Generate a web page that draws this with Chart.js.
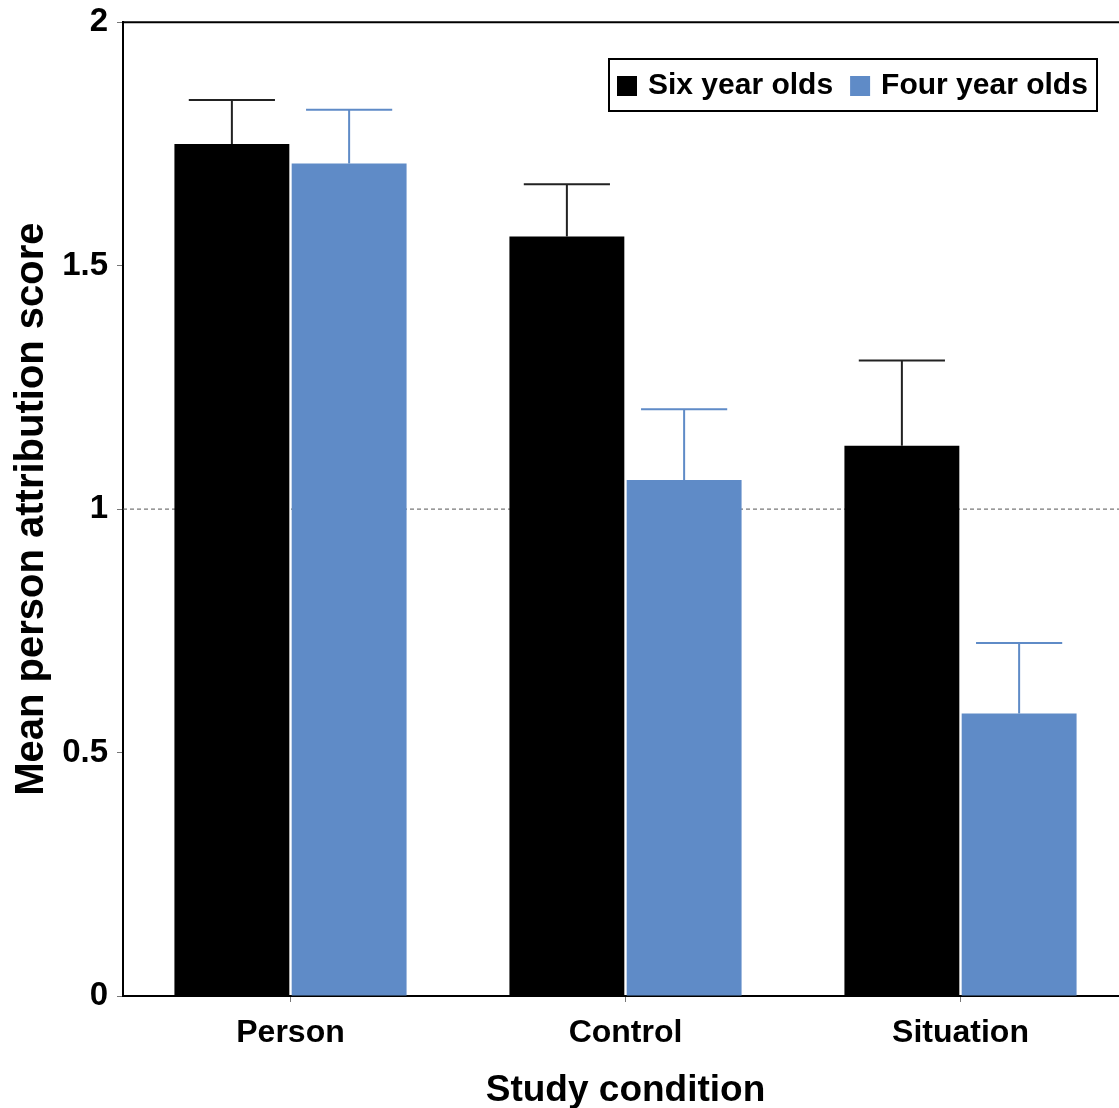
<!DOCTYPE html>
<html>
<head>
<meta charset="utf-8">
<script src="https://cdn.jsdelivr.net/npm/chart.js@4"></script>
<style>
  html, body { margin: 0; padding: 0; background: #fff; overflow: hidden; }
  #wrap { width: 1119px; height: 1108px; overflow: hidden; }
</style>
</head>
<body>
<div id="wrap"><canvas id="attrChart" width="1128" height="1108"></canvas></div>
<script>
// ===============================
// Data
// ===============================
const categories = ["Person", "Control", "Situation"];
const seriesNames = ["Six year olds", "Four year olds"];
const sixMeans = [1.75, 1.56, 1.13];
const fourMeans = [1.71, 1.06, 0.58];
// upper error bar length (only upper half is drawn)
const sixErr = [0.09, 0.107, 0.175];
const fourErr = [0.11, 0.145, 0.145];
const yTickLabels = ["0", "0.5", "1", "1.5", "2"];
const refLine = 1;

const FONT = "'Liberation Sans', Arial, sans-serif";
const BLUE = "#5f8bc7";

// ===============================
// Plugins: error bars, reference line, top border, legend box
// ===============================
const refLinePlugin = {
  id: "refLine",
  beforeDatasetsDraw(chart) {
    const { ctx, chartArea, scales } = chart;
    const y = scales.y.getPixelForValue(refLine);
    ctx.save();
    ctx.strokeStyle = "#555";
    ctx.lineWidth = 1;
    ctx.setLineDash([4, 3]);
    ctx.beginPath();
    ctx.moveTo(chartArea.left, y);
    ctx.lineTo(chartArea.right, y);
    ctx.stroke();
    ctx.restore();
  }
};

const errorBarPlugin = {
  id: "errorBars",
  afterDatasetsDraw(chart) {
    const { ctx, scales } = chart;
    const errs = [sixErr, fourErr];
    const colors = ["#222", BLUE];
    chart.data.datasets.forEach((ds, i) => {
      const meta = chart.getDatasetMeta(i);
      meta.data.forEach((bar, j) => {
        const top = scales.y.getPixelForValue(ds.data[j] + errs[i][j]);
        const half = bar.width * 0.375;
        ctx.save();
        ctx.strokeStyle = colors[i];
        ctx.lineWidth = 2;
        ctx.beginPath();
        ctx.moveTo(bar.x, bar.y);
        ctx.lineTo(bar.x, top);
        ctx.moveTo(bar.x - half, top);
        ctx.lineTo(bar.x + half, top);
        ctx.stroke();
        ctx.restore();
      });
    });
  }
};

const frameLegendPlugin = {
  id: "frameLegend",
  afterDraw(chart) {
    const { ctx, chartArea } = chart;
    ctx.save();
    // top border of the plot frame
    ctx.strokeStyle = "#000";
    ctx.lineWidth = 2;
    ctx.beginPath();
    ctx.moveTo(chartArea.left, chartArea.top);
    ctx.lineTo(chartArea.right, chartArea.top);
    ctx.stroke();

    // legend box
    const bx = 609, by = 59, bw = 488, bh = 52;
    ctx.fillStyle = "#fff";
    ctx.fillRect(bx, by, bw, bh);
    ctx.strokeRect(bx, by, bw, bh);
    ctx.font = "bold 30px " + FONT;
    ctx.textBaseline = "middle";
    let x = bx + 8;
    const cy = by + bh / 2 + 1;
    chart.data.datasets.forEach((ds) => {
      ctx.fillStyle = ds.backgroundColor;
      ctx.fillRect(x, cy - 10, 20, 20);
      x += 31;
      ctx.fillStyle = "#000";
      ctx.fillText(ds.label, x, cy);
      x += ctx.measureText(ds.label).width + 17;
    });
    ctx.restore();
  }
};

// ===============================
// Chart
// ===============================
const ctx = document.getElementById("attrChart");
new Chart(ctx, {
  type: "bar",
  data: {
    labels: categories,
    datasets: [
      {
        label: seriesNames[0],
        data: sixMeans,
        backgroundColor: "#000",
        categoryPercentage: 0.7,
        barPercentage: 0.98
      },
      {
        label: seriesNames[1],
        data: fourMeans,
        backgroundColor: BLUE,
        categoryPercentage: 0.7,
        barPercentage: 0.98
      }
    ]
  },
  options: {
    responsive: false,
    animation: false,
    layout: { padding: { top: 9, right: 0, left: 0, bottom: 0 } },
    plugins: {
      legend: { display: false },
      tooltip: { enabled: false }
    },
    scales: {
      x: {
        grid: {
          offset: false,
          drawOnChartArea: false,
          drawTicks: true,
          tickLength: 6,
          color: "#777"
        },
        border: { display: true, color: "#000", width: 2 },
        ticks: {
          color: "#000",
          font: { family: FONT, size: 32, weight: "bold" },
          padding: 12
        },
        title: {
          display: true,
          text: "Study condition",
          color: "#000",
          font: { family: FONT, size: 37, weight: "bold" },
          padding: { top: 14, bottom: -5 }
        },
        afterFit(scale) { scale.height = 112; }
      },
      y: {
        min: 0,
        max: 2,
        ticks: {
          stepSize: 0.5,
          color: "#000",
          font: { family: FONT, size: 33, weight: "bold", lineHeight: 0.8 },
          padding: 9,
          callback: (v, i) => yTickLabels[i]
        },
        grid: {
          drawOnChartArea: false,
          drawTicks: true,
          tickLength: 6,
          color: "#777"
        },
        border: { display: true, color: "#000", width: 2 },
        title: {
          display: true,
          text: "Mean person attribution score",
          color: "#000",
          font: { family: FONT, size: 40, weight: "bold" },
          padding: { top: 8, bottom: 8 }
        },
        afterFit(scale) { scale.width = 123; }
      }
    }
  },
  plugins: [refLinePlugin, errorBarPlugin, frameLegendPlugin]
});
</script>
</body>
</html>
